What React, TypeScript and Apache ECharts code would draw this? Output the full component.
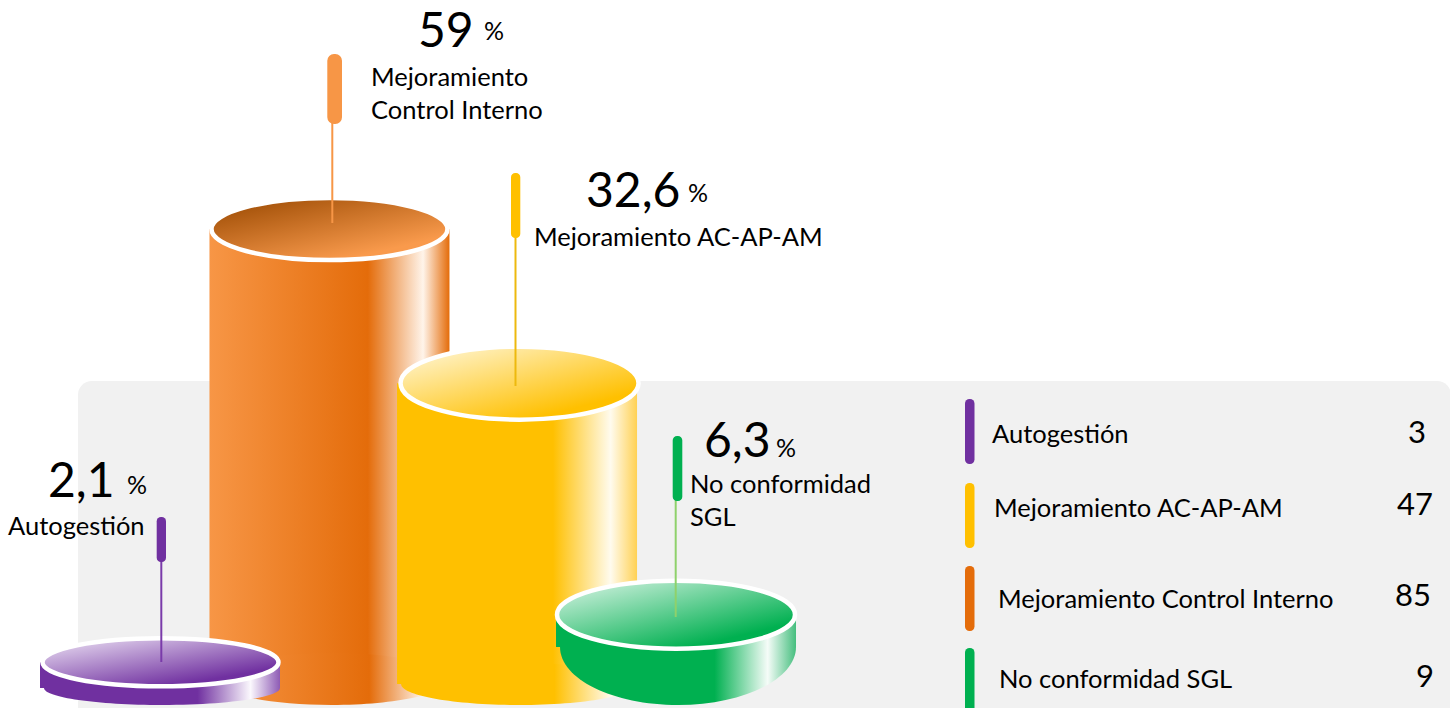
import React, { useEffect, useRef } from "react";
import * as echarts from "echarts";

// ---- data ----
const categories = ["Autogestión", "Mejoramiento Control Interno", "Mejoramiento AC-AP-AM", "No conformidad SGL"];
const percents = [2.1, 59, 32.6, 6.3];
// top level of each cylinder as it is drawn in the picture, on the percent scale
const drawnLevels = [5.3, 59, 39.9, 11.2];
const calloutLabels = ["Autogestión", "Mejoramiento\nControl Interno", "Mejoramiento AC-AP-AM", "No conformidad\nSGL"];
const legendNames = ["Autogestión", "Mejoramiento AC-AP-AM", "Mejoramiento Control Interno", "No conformidad SGL"];
const legendCounts = [3, 47, 85, 9];
const drawOrder = [1, 2, 0, 3];

// ---- styling and layout ----
const FONT = "Lato, 'Noto Sans', sans-serif";
const Y_MAX = 87.4;
const LABEL_SIZE = 25.5;
const VALUE_SIZE = 48;

const grad = (stops: [number, string][]) => ({
  type: "linear", x: 0, y: 0, x2: 1, y2: 0,
  colorStops: stops.map(([offset, color]) => ({ offset, color })),
});
const diag = (a: string, b: string) => ({
  type: "linear", x: 0, y: 0, x2: 0.85, y2: 1,
  colorStops: [{ offset: 0.05, color: a }, { offset: 0.85, color: b }],
});

const looks = [
  { dx: -1, capDx: 0.5, ry: 24, bottomRy: 17, rx: 118,
    body: grad([[0, "#7030A0"], [0.65, "#7030A0"], [0.875, "#FBF8FD"], [1, "#8E5BB5"]]),
    cap: diag("#E8DCF1", "#7030A0"), pinColor: "#7030A0", lineColor: "#7A3BAA",
    pin: [156.7, 517, 9.3, 45], lineX: 161.3, lineEnd: 662,
    value: [48, 478], pct: [127, 484], label: [8, 525] },
  { dx: -3.2, capDx: 0, ry: 31, bottomRy: 26, rx: 118,
    body: grad([[0, "#F79646"], [0.66, "#E46C0A"], [0.89, "#FFF4EA"], [1, "#E46C0A"]]),
    cap: diag("#9C4B03", "#F99A4C"), pinColor: "#F79646", lineColor: "#F79646",
    pin: [327.3, 54, 14.7, 70], lineX: 332.3, lineEnd: 223,
    value: [418, 28], pct: [484, 30], label: [371, 92] },
  { dx: 12.7, capDx: 2.5, ry: 36.5, bottomRy: 21, rx: 119,
    body: grad([[0, "#FFC000"], [0.65, "#FFC000"], [0.89, "#FFFBEE"], [1, "#FFD154"]]),
    cap: diag("#FFF6D6", "#FFC000"), pinColor: "#FFC000", lineColor: "#EDB90E",
    pin: [511, 173, 9.3, 65], lineX: 515.5, lineEnd: 386,
    value: [586, 188], pct: [688, 192], label: [534, 236] },
  { dx: 0, capDx: 0, ry: 34, bottomRy: 58, rx: 119,
    body: grad([[0, "#00B050"], [0.655, "#00B050"], [0.88, "#F5FCF8"], [1, "#45BE7E"]]),
    cap: diag("#D3F2E1", "#00B050"), pinColor: "#00B050", lineColor: "#8FD16B",
    pin: [672.7, 436, 9.6, 65], lineX: 675.7, lineEnd: 617,
    value: [704, 438], pct: [776, 447], label: [690, 499] },
];

const legendRows = [
  { barY: 399, textX: 992, textY: 433, countRight: 1426, countY: 431 },
  { barY: 483, textX: 994, textY: 507, countRight: 1433, countY: 503 },
  { barY: 566, textX: 998, textY: 598, countRight: 1431, countY: 594 },
  { barY: 648, textX: 999, textY: 678, countRight: 1434, countY: 675 },
];
const legendColors = ["#7030A0", "#FFC000", "#E46C0A", "#00B050"];

const fmt = (v: number) => String(v).replace(".", ",");

const renderItem = (_params: any, api: any) => {
  const idx = api.value(0);
  const look = looks[idx];
  const [cx0, yTop] = api.coord([idx, api.value(1)]);
  const [, yBase] = api.coord([idx, 0]);
  const cx = cx0 + look.dx;
  const halfW = 120;
  const bottomCy = yBase - look.bottomRy;
  const children: any[] = [
    { type: "rect", shape: { x: cx - halfW, y: yTop, width: halfW * 2, height: bottomCy - yTop }, style: { fill: look.body } },
    { type: "ellipse", shape: { cx: cx + 2, cy: bottomCy, rx: halfW - 2, ry: look.bottomRy }, style: { fill: look.body } },
    { type: "ellipse", shape: { cx: cx + look.capDx, cy: yTop, rx: look.rx, ry: look.ry }, style: { fill: look.cap, stroke: "#FFFFFF", lineWidth: 4.5 } },
    { type: "rect", shape: { x: look.lineX - 1, y: look.pin[1] + look.pin[3] - 2, width: 2, height: look.lineEnd - look.pin[1] - look.pin[3] + 2 }, style: { fill: look.lineColor } },
    { type: "rect", shape: { x: look.pin[0], y: look.pin[1], width: look.pin[2], height: look.pin[3], r: look.pin[2] / 2.2 }, style: { fill: look.pinColor } },
    { type: "text", style: { x: look.value[0], y: look.value[1], text: fmt(percents[idx]), font: `${VALUE_SIZE}px ${FONT}`, fill: "#000", align: "left", verticalAlign: "middle" } },
    { type: "text", style: { x: look.pct[0], y: look.pct[1], text: "%", font: `25px ${FONT}`, fill: "#000", align: "left", verticalAlign: "middle" } },
    { type: "text", style: { x: look.label[0], y: look.label[1], text: calloutLabels[idx], font: `${LABEL_SIZE}px ${FONT}`, lineHeight: 33, fill: "#000", align: "left", verticalAlign: "middle" } },
  ];
  return { type: "group", children };
};

export default function App() {
  const ref = useRef<HTMLDivElement>(null);
  useEffect(() => {
    document.body.style.margin = "0";
    const chart = echarts.init(ref.current!, undefined, { renderer: "svg" });
    const legendGraphics: any[] = [];
    legendRows.forEach((row, i) => {
      legendGraphics.push(
        { type: "rect", z: 1, shape: { x: 965, y: row.barY, width: 9.5, height: 65, r: 4.5 }, style: { fill: legendColors[i] } },
        { type: "text", z: 1, style: { x: row.textX, y: row.textY, text: legendNames[i], font: `${LABEL_SIZE}px ${FONT}`, fill: "#000", verticalAlign: "middle" } },
        { type: "text", z: 1, style: { x: row.countRight, y: row.countY, text: String(legendCounts[i]), font: `31px ${FONT}`, fill: "#000", align: "right", verticalAlign: "middle" } },
      );
    });
    chart.setOption({
      animation: false,
      backgroundColor: "#FFFFFF",
      grid: { left: 75.17, width: 686.67, top: 0, bottom: 3 },
      xAxis: { type: "category", data: categories, show: false },
      yAxis: { type: "value", min: 0, max: Y_MAX, show: false },
      graphic: [
        { type: "rect", z: -10, silent: true, shape: { x: 78, y: 381, width: 1373, height: 360, r: 14 }, style: { fill: "#F1F1F1" } },
        ...legendGraphics,
      ],
      series: [
        {
          type: "custom",
          z: 5,
          renderItem,
          clip: false,
          encode: { x: 0, y: 1 },
          data: drawOrder.map((i) => [i, drawnLevels[i]]),
        },
      ],
    });
    return () => chart.dispose();
  }, []);
  return <div ref={ref} style={{ position: "fixed", left: 0, top: 0, width: 1450, height: 708 }} />;
}
